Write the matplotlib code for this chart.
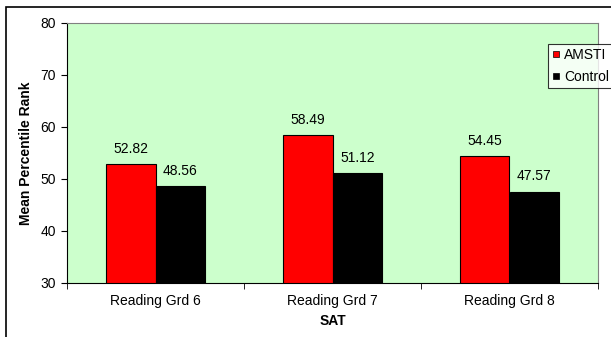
import matplotlib
matplotlib.use('Agg')
import matplotlib.pyplot as plt
from matplotlib.patches import Rectangle
from matplotlib.lines import Line2D
import numpy as np

plt.rcParams['font.family'] = ['Liberation Sans', 'DejaVu Sans']

# Data
categories = ['Reading Grd 6', 'Reading Grd 7', 'Reading Grd 8']
amsti = [52.82, 58.49, 54.45]
control = [48.56, 51.12, 47.57]

fig = plt.figure(figsize=(6.11, 3.37), dpi=100)

# outer chart border (runs off the right and bottom edges)
fig.patches.append(Rectangle((6 / 611, -0.2), 1.2, (337 - 7) / 337 + 0.2,
                             transform=fig.transFigure, fill=False,
                             edgecolor='black', linewidth=1.2))

ax = fig.add_axes([67 / 611, 54 / 337, 531 / 611, 260 / 337])
ax.set_facecolor('#CCFFCC')

x = np.arange(len(categories))
w = 0.28
b1 = ax.bar(x - w / 2, amsti, w, color='#FF0000', edgecolor='black', linewidth=0.8)
b2 = ax.bar(x + w / 2, control, w, color='#000000', edgecolor='black', linewidth=0.8)

for bars, vals in ((b1, amsti), (b2, control)):
    for r, v in zip(bars, vals):
        ax.annotate(f'{v:.2f}', (r.get_x() + r.get_width() / 2, v),
                    xytext=(0, 6), textcoords='offset points',
                    ha='center', va='bottom', fontsize=10)

ax.set_xlim(-0.5, 2.5)
ax.set_ylim(30, 80)
ax.set_yticks(range(30, 81, 10))
ax.set_xticks(x)
ax.set_xticklabels(categories, fontsize=10)
ax.set_xticks([-0.5, 0.5, 1.5, 2.5], minor=True)
ax.tick_params(axis='x', which='major', length=0, pad=8)
ax.tick_params(axis='x', which='minor', length=4, direction='out', color='black')
ax.tick_params(axis='y', length=4, direction='out', labelsize=10, pad=4)

for s in ('top', 'right'):
    ax.spines[s].set_color('#808080')
    ax.spines[s].set_linewidth(0.8)
for s in ('left', 'bottom'):
    ax.spines[s].set_color('black')
    ax.spines[s].set_linewidth(0.8)

ax.set_ylabel('Mean Percentile Rank', fontsize=10, fontweight='bold', labelpad=5)
ax.set_xlabel('SAT', fontsize=10, fontweight='bold', labelpad=4)

handles = [Line2D([], [], linestyle='none', marker='s', markersize=4.5,
                  markerfacecolor=c, markeredgecolor='black', markeredgewidth=0.5)
           for c in ('#FF0000', '#000000')]
leg = fig.legend(handles, ['AMSTI', 'Control'], loc='upper left',
                 bbox_to_anchor=(548 / 611, (337 - 44) / 337),
                 bbox_transform=fig.transFigure, fontsize=10, frameon=True,
                 fancybox=False, edgecolor='black', handlelength=0.5,
                 handletextpad=0.36, borderpad=0.3, labelspacing=0.55, borderaxespad=0)
leg.get_frame().set_linewidth(0.8)

fig.savefig('out.png', dpi=100)
